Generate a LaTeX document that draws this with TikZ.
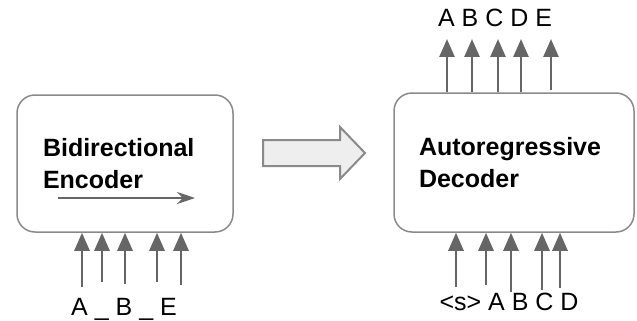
\documentclass[tikz,border=0pt]{standalone}
\usepackage{xcolor}
\usepackage{fontspec}
\setmainfont{Liberation Sans}
\usetikzlibrary{positioning,arrows.meta}

\definecolor{boxgray}{HTML}{8A8A8A}
\definecolor{arrgray}{HTML}{666666}
\definecolor{fillgray}{HTML}{EEEEEE}

\begin{document}
\begin{tikzpicture}[x=1pt,y=-1pt,
    block/.style={draw=boxgray,line width=1.5pt,rounded corners=18pt,align=left,
      font=\fontsize{25}{32}\selectfont\bfseries},
    tok/.style={draw=arrgray,line width=2.6pt,-{Triangle[width=15pt,length=18pt]}},
    lbl/.style={anchor=base,font=\fontsize{25}{30}\selectfont}]
    \useasboundingbox (0,0) rectangle (637,321);

    % the two boxes
    \node[block,minimum width=216pt,minimum height=137pt,text width=164pt] (enc) at (125,163.5) {Bidirectional\\Encoder};
    \node[block,minimum width=240pt,minimum height=139pt,text width=190pt] (dec) at (514,162.5) {Autoregressive\\Decoder};

    % direction inside the encoder
    \coordinate (d0) at (58,198);
    \coordinate (d1) at (195,198);
    \draw[arrgray,line width=1.6pt,-{Stealth[width=12pt,length=18pt,inset=6pt]}] (d0) -- (d1);

    % big arrow between the boxes
    \draw[boxgray,fill=fillgray,line width=2pt,line join=miter]
      (263,140) -- (340,140) -- (340,127) -- (365,153) -- (340,179) -- (340,166) -- (263,166) -- cycle;

    % encoder inputs
    \coordinate (e1) at (82,287);
    \coordinate (e2) at (102,282);
    \coordinate (e3) at (125,284);
    \coordinate (e4) at (157,282);
    \coordinate (e5) at (181,285);
    \foreach \c in {e1,e2,e3,e4,e5}
      \draw[tok] (\c) -- (\c |- enc.south);
    \node[lbl] (ein) at (124,315) {A \_ B \_ E};

    % decoder inputs
    \coordinate (i1) at (456,287);
    \coordinate (i2) at (486,285);
    \coordinate (i3) at (511,292);
    \coordinate (i4) at (542,290);
    \coordinate (i5) at (560,288);
    \foreach \c in {i1,i2,i3,i4,i5}
      \draw[tok] (\c) -- (\c |- dec.south);
    \node[lbl] (din) at (509,310) {<s> A B C D};

    % decoder outputs
    \coordinate (o1) at (447,39);
    \coordinate (o2) at (472,39);
    \coordinate (o3) at (498,39);
    \coordinate (o4) at (521,39);
    \coordinate (o5) at (551,39);
    \coordinate (o5b) at (551,90);
    \foreach \c in {o1,o2,o3,o4}
      \draw[tok] (\c |- dec.north) -- (\c);
    \draw[tok] (o5b) -- (o5);
    \node[lbl] (dout) at (495,27) {A B C D E};
\end{tikzpicture}
\end{document}
